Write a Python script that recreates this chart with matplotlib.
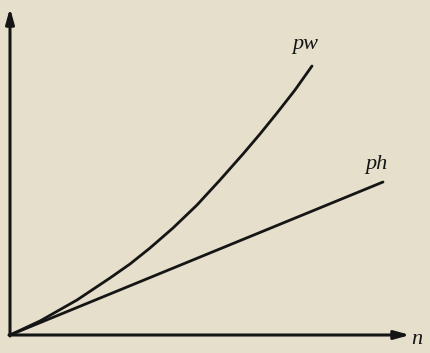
import matplotlib
matplotlib.use("Agg")
import matplotlib.pyplot as plt

# values (arbitrary units, origin at the axes corner)
n_pw = [0, 30, 67, 100, 120, 140, 163, 187, 210, 233, 250, 267, 285, 302]
p_pw = [0, 14, 35, 57, 71, 87, 107, 130, 155, 181, 201, 222, 245, 269]
n_ph = [0, 373]
p_ph = [0, 153]

n_axis_end = 400
p_axis_end = 327

bg = "#e6dfcb"
ink = "#151515"

fig = plt.figure(figsize=(4.31, 3.53), dpi=100, facecolor=bg)
ax = fig.add_axes([0, 0, 1, 1])
ax.set_facecolor(bg)
ax.set_xlim(-10, 421)
ax.set_ylim(-18, 335)
ax.axis("off")

# axes with arrow heads
arrow = dict(arrowstyle="-|>,head_length=0.9,head_width=0.25", color=ink, lw=2.2,
             shrinkA=0, shrinkB=0)
ax.annotate("", xy=(n_axis_end, 0), xytext=(-1, 0), arrowprops=arrow)
ax.annotate("", xy=(0, p_axis_end), xytext=(0, -1), arrowprops=arrow)

ax.plot(n_pw, p_pw, color=ink, lw=2.0, solid_capstyle="round", solid_joinstyle="round")
ax.plot(n_ph, p_ph, color=ink, lw=2.0, solid_capstyle="round")

lab = dict(family="Liberation Serif", style="italic", fontsize=16, color=ink)
ax.text(295, 291, "pw", ha="center", va="center", **lab)
ax.text(366, 171, "ph", ha="center", va="center", **lab)
ax.text(407, -4, "n", ha="center", va="center", **lab)

fig.savefig("out.png", dpi=100, facecolor=bg)
